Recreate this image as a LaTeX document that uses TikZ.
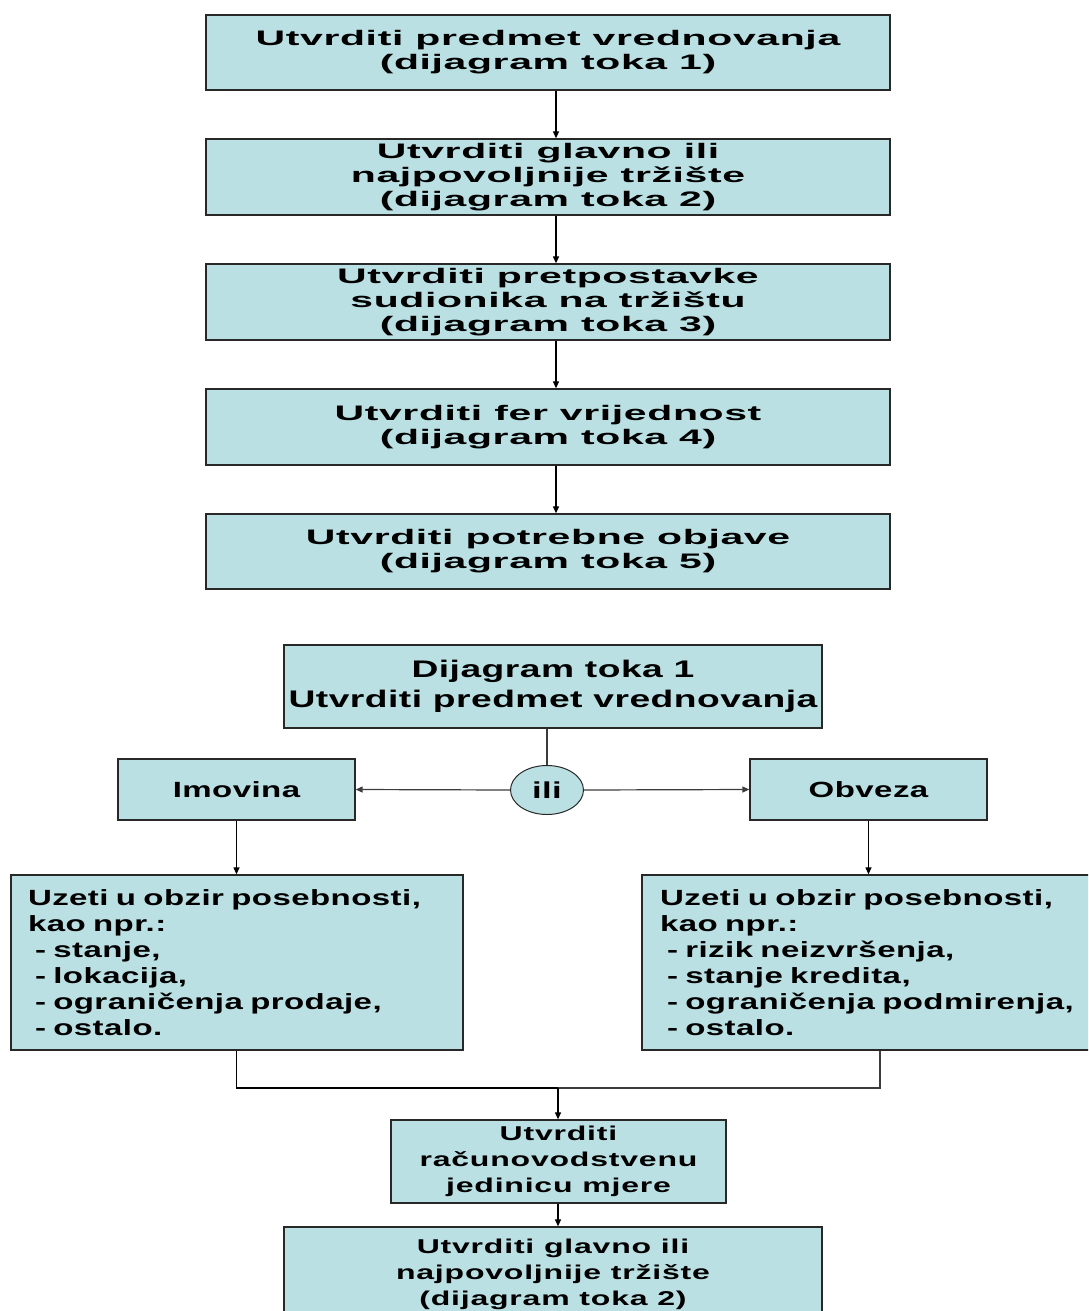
\documentclass[tikz,border=0pt]{standalone}
\usepackage{fontspec}
\usetikzlibrary{arrows.meta,shapes.geometric}
\newfontfamily\topfont[FakeStretch=1.95,LetterSpace=3]{Liberation Sans Bold}
\newfontfamily\midfont[FakeStretch=1.6,LetterSpace=4]{Liberation Sans Bold}
\newfontfamily\botfont[FakeStretch=1.5,LetterSpace=2]{Liberation Sans Bold}
\newfontfamily\hdfont[FakeStretch=1.55,LetterSpace=2]{Liberation Sans Bold}
\definecolor{boxfill}{RGB}{187,224,227}
\definecolor{boxline}{RGB}{40,40,40}
\definecolor{conn}{RGB}{60,60,60}
\tikzset{
  box/.style={draw=boxline,line width=1.3pt,fill=boxfill,rectangle,inner sep=0pt,align=center},
  topbox/.style={box,minimum width=684pt,minimum height=75pt,font=\topfont\fontsize{21}{24}\selectfont},
  midbox/.style={box,font=\midfont\fontsize{20}{26}\selectfont},
  lowbox/.style={box,font=\botfont\fontsize{22}{26}\selectfont},
  arr/.style={-{Triangle[length=7pt,width=6pt]},line width=1.2pt,draw=black},
  garr/.style={-{Triangle[length=7pt,width=6pt]},line width=1.2pt,draw=conn},
  gline/.style={line width=1.2pt,draw=conn}
}
\begin{document}
\begin{tikzpicture}[x=1pt,y=-1pt]
\useasboundingbox (0,0) rectangle (1088,1311);
\clip (0,0) rectangle (1088,1311);
% top flow
\node[topbox] (b1) at (548,52.5) {Utvrditi predmet vrednovanja\\(dijagram toka 1)};
\node[topbox,minimum height=76pt] (b2) at (548,177) {Utvrditi glavno ili\\najpovoljnije tržište\\(dijagram toka 2)};
\node[topbox,minimum height=76pt] (b3) at (548,302) {Utvrditi pretpostavke\\sudionika na tržištu\\(dijagram toka 3)};
\node[topbox,minimum height=76pt] (b4) at (548,427) {Utvrditi fer vrijednost\\(dijagram toka 4)};
\node[topbox] (b5) at (548,551.5) {Utvrditi potrebne objave\\(dijagram toka 5)};
\foreach \a/\b in {b1/b2,b2/b3,b3/b4,b4/b5}
  \draw[arr] ([xshift=8pt]\a.south) -- ([xshift=8pt]\b.north);
% lower flow
\node[lowbox,minimum width=538pt,minimum height=83pt,font=\hdfont\fontsize{24}{30}\selectfont] (d1) at (553,686.5) {Dijagram toka 1\\Utvrditi predmet vrednovanja};
\node[draw=boxline,line width=1pt,fill=boxfill,ellipse,minimum width=73pt,minimum height=49pt,inner sep=0pt,font=\botfont\fontsize{23}{26}\selectfont] (ili) at (547,790) {ili};
\node[lowbox,minimum width=237pt,minimum height=61pt] (imo) at (236.5,789.5) {Imovina};
\node[lowbox,minimum width=237pt,minimum height=61pt] (obv) at (868.5,789.5) {Obveza};
\node[lowbox,minimum width=452pt,minimum height=175pt,text width=418pt,align=left] (lb) at (237,962.5) {Uzeti u obzir posebnosti,\\kao npr.:\\\hspace*{7pt}- stanje,\\\hspace*{7pt}- lokacija,\\\hspace*{7pt}- ograničenja prodaje,\\\hspace*{7pt}- ostalo.};
\node[lowbox,minimum width=450pt,minimum height=175pt,text width=414pt,align=left] (rb) at (867,962.5) {Uzeti u obzir posebnosti,\\kao npr.:\\\hspace*{7pt}- rizik neizvršenja,\\\hspace*{7pt}- stanje kredita,\\\hspace*{7pt}- ograničenja podmirenja,\\\hspace*{7pt}- ostalo.};
\node[midbox,minimum width=335pt,minimum height=83pt] (jm) at (558.5,1161.5) {Utvrditi\\računovodstvenu\\jedinicu mjere};
\node[midbox,minimum width=538pt,minimum height=94pt] (gt) at (553,1274) {Utvrditi glavno ili\\najpovoljnije tržište\\(dijagram toka 2)};
\coordinate (jn) at (558,1088);
\draw[gline] ([xshift=-6pt]d1.south) -- (ili.north);
\draw[garr] (ili.west) -- (imo.east);
\draw[garr] (ili.east) -- (obv.west);
\draw[arr] (imo.south) -- (imo.south |- lb.north);
\draw[arr] (obv.south) -- (obv.south |- rb.north);
\draw[line width=1.2pt] (lb.south -| imo.south) |- (jn);
\draw[gline] ([xshift=13pt]rb.south) |- (jn);
\draw[arr] (jn) -- (jm.north -| jn);
\draw[arr] (jm.south -| jn) -- (gt.north -| jn);
\end{tikzpicture}
\end{document}
